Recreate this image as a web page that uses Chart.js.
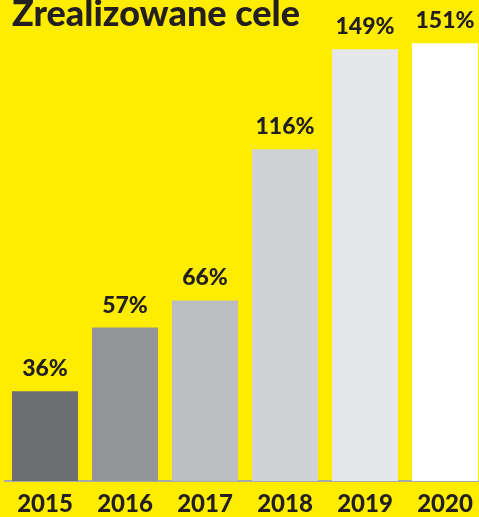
<!DOCTYPE html>
<html>
<head>
<meta charset="utf-8">
<script src="https://cdn.jsdelivr.net/npm/chart.js@4.4.1/dist/chart.umd.min.js"></script>
<style>
  html, body { margin: 0; padding: 0; background: #ffed00; overflow: hidden; }
  #wrap { width: 485px; height: 517px; }
</style>
</head>
<body>
<div id="wrap"><canvas id="grafica"></canvas></div>
<script>
const titulo = 'Zrealizowane cele';
const lata = ['2015', '2016', '2017', '2018', '2019', '2020'];
const wartosci = [36, 57, 66, 116, 149, 151];
const kolory = ['#6d6e71', '#939598', '#bcbdc0', '#d1d2d4', '#e6e7e8', '#ffffff'];

const tekstKolor = '#231f20';
const czcionka = 'Lato';

// napisy nad slupkami + tytul
const etykiety = {
  id: 'etykiety',
  afterDatasetsDraw(chart) {
    const ctx = chart.ctx;
    const meta = chart.getDatasetMeta(0);
    ctx.save();
    ctx.fillStyle = tekstKolor;
    ctx.font = '900 23px ' + czcionka;
    ctx.textAlign = 'center';
    ctx.textBaseline = 'alphabetic';
    meta.data.forEach((bar, i) => {
      ctx.fillText(wartosci[i] + '%', bar.x, bar.y - 15);
    });
    ctx.font = '900 36px ' + czcionka;
    ctx.textAlign = 'left';
    ctx.fillText(titulo, 12, 26);
    ctx.restore();
  }
};

new Chart(document.getElementById('grafica'), {
  type: 'bar',
  data: {
    labels: lata,
    datasets: [{
      data: wartosci,
      backgroundColor: kolory,
      borderWidth: 0,
      categoryPercentage: 1,
      barPercentage: 0.825
    }]
  },
  options: {
    responsive: true,
    maintainAspectRatio: false,
    animation: false,
    layout: { padding: { left: 5, right: 0, top: 0, bottom: 0 } },
    plugins: {
      legend: { display: false },
      tooltip: { enabled: false }
    },
    scales: {
      x: {
        grid: { display: false },
        border: { color: '#a7a9ac', width: 2 },
        afterFit(scale) { scale.height = 36; },
        ticks: {
          color: tekstKolor,
          padding: 1,
          font: { family: czcionka, size: 24, weight: '900' }
        }
      },
      y: {
        display: false,
        min: 6.3,
        max: 165.3
      }
    }
  },
  plugins: [etykiety]
});
</script>
</body>
</html>
